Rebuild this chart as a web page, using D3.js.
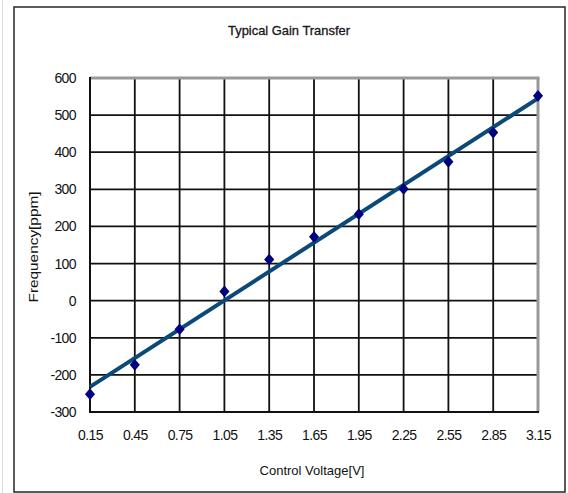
<!DOCTYPE html>
<html><head><meta charset="utf-8">
<script src="https://cdn.jsdelivr.net/npm/d3@7/dist/d3.min.js"></script>
<style>
html,body{margin:0;padding:0;background:#fff;}
svg text{font-family:"Liberation Sans",Arial,sans-serif;fill:#111;}
</style></head>
<body>
<svg id="c" width="568" height="493"></svg>
<script>
const title = "Typical Gain Transfer";
const xTitle = "Control Voltage[V]";
const yTitle = "Frequency[ppm]";
const voltage = [0.15,0.45,0.75,1.05,1.35,1.65,1.95,2.25,2.55,2.85,3.15];
const frequency = [-252,-173,-77,25,111,172,233,301,374,453,552];
const xTicks = [0.15,0.45,0.75,1.05,1.35,1.65,1.95,2.25,2.55,2.85,3.15];
const yTicks = [-300,-200,-100,0,100,200,300,400,500,600];

const svg = d3.select("#c");
const L = 90, R = 538, T = 78, B = 412;
const x = d3.scaleLinear().domain([0.15,3.15]).range([L,R]);
const y = d3.scaleLinear().domain([-300,600]).range([B,T]);

// faint page edge
svg.append("line").attr("x1",2.5).attr("x2",2.5).attr("y1",0).attr("y2",493).attr("stroke","#ddd").attr("stroke-width",1);
// outer frame
svg.append("rect").attr("x",14).attr("y",7).attr("width",551).attr("height",485)
  .attr("fill","#fff").attr("stroke","#333").attr("stroke-width",1.6);

// grid
const g = svg.append("g");
g.selectAll(".vx").data(xTicks.slice(1,-1)).join("line")
  .attr("x1",d=>x(d)).attr("x2",d=>x(d)).attr("y1",T).attr("y2",B)
  .attr("stroke","#111").attr("stroke-width",1.8);
g.selectAll(".hy").data(yTicks.slice(1,-1)).join("line")
  .attr("x1",L).attr("x2",R).attr("y1",d=>y(d)).attr("y2",d=>y(d))
  .attr("stroke","#111").attr("stroke-width",1.8);
// plot border: top/right gray, left/bottom black
g.append("line").attr("x1",L).attr("x2",R+1.5).attr("y1",T).attr("y2",T).attr("stroke","#999").attr("stroke-width",3);
g.append("line").attr("x1",R).attr("x2",R).attr("y1",T).attr("y2",B).attr("stroke","#999").attr("stroke-width",3);
g.append("line").attr("x1",L).attr("x2",L).attr("y1",T-1).attr("y2",B+1).attr("stroke","#111").attr("stroke-width",2);
g.append("line").attr("x1",L-1).attr("x2",R+1).attr("y1",B).attr("y2",B).attr("stroke","#111").attr("stroke-width",2);

// axes labels via d3 axes
const yAxis = d3.axisLeft(y).tickValues(yTicks).tickSize(0).tickPadding(14).tickFormat(d=>String(d));
const ya = svg.append("g").attr("transform",`translate(${L},0)`).call(yAxis);
ya.select(".domain").remove();
ya.selectAll("text").attr("font-size",14).style("font-family",'"Liberation Sans",Arial,sans-serif')
  .style("letter-spacing","-0.6px").attr("fill","#111");

const xAxis = d3.axisBottom(x).tickValues(xTicks).tickSize(0).tickPadding(18).tickFormat(d3.format(".2f"));
const xa = svg.append("g").attr("transform",`translate(0,${B})`).call(xAxis);
xa.select(".domain").remove();
xa.selectAll("text").attr("font-size",14).style("font-family",'"Liberation Sans",Arial,sans-serif')
  .style("letter-spacing","-0.6px").attr("fill","#111");

// linear trendline (least squares)
const mx = d3.mean(voltage), my = d3.mean(frequency);
const slope = d3.sum(voltage,(v,i)=>(v-mx)*(frequency[i]-my))/d3.sum(voltage,v=>(v-mx)*(v-mx));
const icpt = my - slope*mx;
const x0 = voltage[0], x1 = voltage[voltage.length-1];
svg.append("line").attr("x1",x(x0)).attr("y1",y(icpt+slope*x0))
  .attr("x2",x(x1)).attr("y2",y(icpt+slope*x1))
  .attr("stroke","#0b4a78").attr("stroke-width",4);

// markers
svg.append("g").selectAll("path").data(voltage).join("path")
  .attr("d",d3.symbol().type(d3.symbolDiamond2).size(72))
  .attr("transform",(d,i)=>`translate(${x(d)},${y(frequency[i])}) scale(0.95,1.1)`)
  .attr("fill","#000080");

// titles
svg.append("text").attr("x",289).attr("y",35).attr("text-anchor","middle")
  .attr("font-size",13).attr("textLength",122).attr("lengthAdjust","spacingAndGlyphs")
  .attr("fill","#222").attr("stroke","#222").attr("stroke-width",0.3).text(title);
svg.append("text").attr("x",312).attr("y",475).attr("text-anchor","middle")
  .attr("font-size",13).attr("textLength",105).attr("lengthAdjust","spacingAndGlyphs")
  .attr("fill","#222").text(xTitle);
svg.append("text").attr("transform","translate(38,247) rotate(-90)").attr("text-anchor","middle")
  .attr("font-size",12).attr("textLength",111).attr("lengthAdjust","spacingAndGlyphs")
  .attr("fill","#222").text(yTitle);
</script>
</body></html>
